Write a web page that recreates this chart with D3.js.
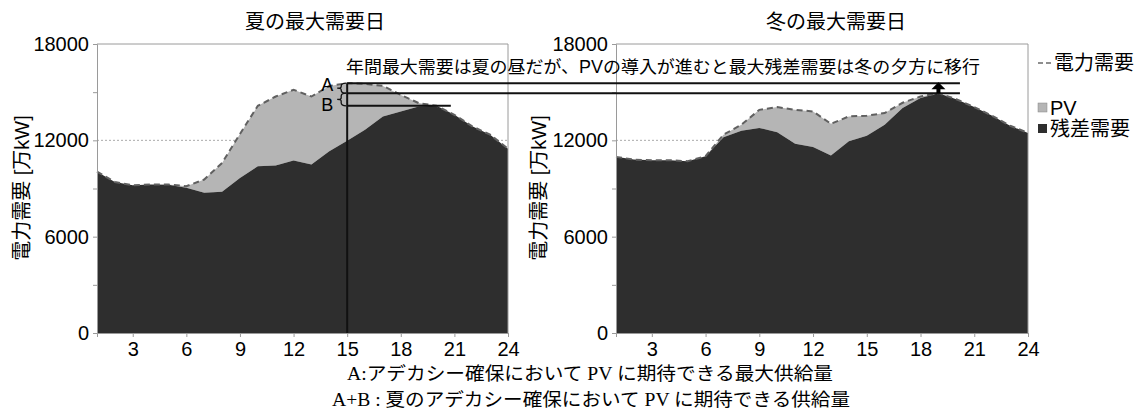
<!DOCTYPE html>
<html><head><meta charset="utf-8">
<script src="https://cdn.jsdelivr.net/npm/d3@7"></script>
<style>
body{margin:0;background:#fff}
svg text{font-family:"Liberation Sans","Noto Sans CJK JP",sans-serif;fill:#000}
</style>
</head><body><svg id="c" width="1141" height="414"></svg>
<script>
// ---------------- data ----------------
const hours = d3.range(1, 25);
const summerDemand   = [10050, 9400, 9200, 9250, 9250, 9140, 9560, 10590, 12400, 14150, 14730, 15150, 14730, 15390, 15560, 15520, 15390, 14830, 14320, 14150, 13590, 12870, 12350, 11480];
const summerResidual = [10050, 9400, 9200, 9250, 9230, 9040, 8730, 8790, 9660, 10380, 10430, 10740, 10490, 11320, 11980, 12660, 13490, 13800, 14110, 14150, 13590, 12870, 12350, 11480];
const winterDemand   = [10970, 10800, 10760, 10760, 10700, 11010, 12350, 12970, 13900, 14070, 13900, 13800, 13030, 13490, 13530, 13700, 14340, 14730, 14940, 14560, 14070, 13530, 12910, 12460];
const winterResidual = [10970, 10800, 10760, 10760, 10700, 11010, 12190, 12600, 12770, 12500, 11790, 11590, 11050, 11940, 12290, 12970, 14010, 14630, 14940, 14560, 14070, 13530, 12910, 12460];
const xTicks = [3, 6, 9, 12, 15, 18, 21, 24];
const yTicks = [0, 3000, 6000, 9000, 12000, 15000, 18000];
const yLabelTicks = [0, 6000, 12000, 18000];
const panelTitles = ["夏の最大需要日", "冬の最大需要日"];
const yAxisTitle = "電力需要 [万kW]";
const legendLabels = ["電力需要", "PV", "残差需要"];
const noteText = "年間最大需要は夏の昼だが、PVの導入が進むと最大残差需要は冬の夕方に移行";
const captions = ["A:アデカシー確保において PV に期待できる最大供給量", "A+B : 夏のアデカシー確保において PV に期待できる供給量"];
const markHourSummer = 15, markHourWinter = 19;

// ---------------- layout ----------------
const svg = d3.select("#c");
const plotTop = 44, plotBottom = 333;
const panels = [
  {x0: 97, x1: 508, demand: summerDemand, resid: summerResidual, title: panelTitles[0], tcx: 315, ylab: 22},
  {x0: 616, x1: 1028, demand: winterDemand, resid: winterResidual, title: panelTitles[1], tcx: 836, ylab: 539}
];
const y = d3.scaleLinear().domain([0, 18000]).range([plotBottom, plotTop]);
const C_DARK = "#2e2e2e", C_PV = "#b5b5b5", C_AX = "#9a9a9a";

panels.forEach(p => {
  p.x = d3.scaleLinear().domain([1, 24]).range([p.x0, p.x1]);
  const g = svg.append("g");
  g.selectAll(".grid").data([6000, 12000]).join("line")
    .attr("x1", p.x0).attr("x2", p.x1).attr("y1", d => y(d)).attr("y2", d => y(d))
    .attr("stroke", "#aaa").attr("stroke-width", 1).attr("stroke-dasharray", "2,2");
  const data = hours.map((h, i) => ({h, d: p.demand[i], r: p.resid[i]}));
  g.append("path").datum(data)
    .attr("d", d3.area().x(d => p.x(d.h)).y0(d => y(d.r)).y1(d => y(d.d)))
    .attr("fill", C_PV);
  g.append("path").datum(data)
    .attr("d", d3.area().x(d => p.x(d.h)).y0(y(0)).y1(d => y(d.r)))
    .attr("fill", C_DARK);
  g.append("path").datum(data)
    .attr("d", d3.line().x(d => p.x(d.h)).y(d => y(d.d)))
    .attr("fill", "none").attr("stroke", "#606060").attr("stroke-width", 2).attr("stroke-dasharray", "6,4");
  g.append("path").attr("d", `M${p.x0},${plotTop}H${p.x1}V${plotBottom}`).attr("fill", "none").attr("stroke", C_AX);
  const ya = g.append("g").attr("transform", `translate(${p.x0},0)`)
    .call(d3.axisLeft(y).tickValues(yTicks).tickSize(4).tickPadding(4)
      .tickFormat(d => yLabelTicks.includes(d) ? d : ""));
  const xa = g.append("g").attr("transform", `translate(0,${plotBottom})`)
    .call(d3.axisBottom(p.x).tickValues(xTicks).tickSize(4).tickPadding(5));
  [ya, xa].forEach(a => {
    a.select(".domain").attr("stroke", C_AX);
    a.selectAll(".tick line").attr("stroke", C_AX);
    a.selectAll("text").attr("font-size", 20).attr("fill", "#000")
      .style("font-family", "'Liberation Sans',sans-serif");
  });
  g.append("text").attr("x", p.tcx).attr("y", 22).attr("text-anchor", "middle")
    .attr("dominant-baseline", "central").attr("font-size", 20).text(p.title);
  g.append("text").attr("transform", `translate(${p.ylab},188) rotate(-90)`)
    .attr("text-anchor", "middle").attr("dominant-baseline", "central")
    .attr("font-size", 20).text(yAxisTitle);
});

// ---------------- annotations ----------------
const xs = panels[0].x, xw = panels[1].x;
const lineA = d3.max(summerDemand), lineB = d3.max(winterResidual), lineC = d3.max(summerResidual);
const ann = svg.append("g").attr("stroke", "#111").attr("stroke-width", 2).attr("fill", "none");
const xv = xs(markHourSummer);
ann.append("line").attr("x1", xv).attr("x2", xv).attr("y1", y(lineA)).attr("y2", y(0));
ann.append("line").attr("x1", xv).attr("x2", xw(20.2)).attr("y1", y(lineA)).attr("y2", y(lineA));
ann.append("line").attr("x1", xv).attr("x2", xw(20.2)).attr("y1", y(lineB)).attr("y2", y(lineB));
ann.append("line").attr("x1", xv).attr("x2", xs(20.8)).attr("y1", y(lineC)).attr("y2", y(lineC));
function brace(ya, yb) {
  const m = (ya + yb) / 2, xr = xv - 1, xm = xv - 6, xt = xv - 10;
  return `M${xr},${ya} Q${xm},${ya} ${xm},${ya + 3} L${xm},${m - 1.5} Q${xm},${m} ${xt},${m} Q${xm},${m} ${xm},${m + 1.5} L${xm},${yb - 3} Q${xm},${yb} ${xr},${yb}`;
}
ann.append("path").attr("d", brace(y(lineA), y(lineB))).attr("stroke-width", 1.3);
ann.append("path").attr("d", brace(y(lineB), y(lineC))).attr("stroke-width", 1.3);
svg.append("text").attr("x", xv - 20).attr("y", y(lineA) + 1.5).attr("text-anchor", "middle")
  .attr("dominant-baseline", "central").attr("font-size", 18).style("font-family", "'Liberation Sans',sans-serif").text("A");
svg.append("text").attr("x", xv - 20).attr("y", y(lineC) - 0.5).attr("text-anchor", "middle")
  .attr("dominant-baseline", "central").attr("font-size", 18).style("font-family", "'Liberation Sans',sans-serif").text("B");
const xa2 = xw(markHourWinter);
svg.append("rect").attr("x", xa2 - 2).attr("y", y(lineA) + 5).attr("width", 4).attr("height", y(lineB) - y(lineA) - 5).attr("fill", "#000");
svg.append("path").attr("d", `M${xa2 - 7},${y(lineA) + 6} L${xa2},${y(lineA) - 1} L${xa2 + 7},${y(lineA) + 6} Z`).attr("fill", "#000");
svg.append("text").attr("x", 346).attr("y", 67).attr("dominant-baseline", "central")
  .attr("font-size", 17.5).attr("textLength", 634).attr("lengthAdjust", "spacingAndGlyphs").text(noteText);

// ---------------- legend ----------------
const lg = svg.append("g");
lg.append("line").attr("x1", 1038).attr("x2", 1051).attr("y1", 63).attr("y2", 63)
  .attr("stroke", "#6a6a6a").attr("stroke-width", 1.5).attr("stroke-dasharray", "5,3");
lg.append("text").attr("x", 1054).attr("y", 63).attr("dominant-baseline", "central").attr("font-size", 20).text(legendLabels[0]);
lg.append("rect").attr("x", 1038).attr("y", 103).attr("width", 9).attr("height", 9).attr("fill", C_PV).attr("stroke", "#888").attr("stroke-width", 0.5);
lg.append("text").attr("x", 1050).attr("y", 108).attr("dominant-baseline", "central").attr("font-size", 20).text(legendLabels[1]);
lg.append("rect").attr("x", 1038).attr("y", 124).attr("width", 9).attr("height", 9).attr("fill", C_DARK);
lg.append("text").attr("x", 1050).attr("y", 129).attr("dominant-baseline", "central").attr("font-size", 20).text(legendLabels[2]);

// ---------------- captions ----------------
svg.append("text").attr("x", 347).attr("y", 374).attr("dominant-baseline", "central")
  .attr("font-size", 18.5).attr("textLength", 486).attr("lengthAdjust", "spacingAndGlyphs")
  .style("font-family", "'Liberation Serif','Noto Sans CJK JP',serif").text(captions[0]);
svg.append("text").attr("x", 332).attr("y", 400).attr("dominant-baseline", "central")
  .attr("font-size", 18.5).attr("textLength", 518).attr("lengthAdjust", "spacingAndGlyphs")
  .style("font-family", "'Liberation Serif','Noto Sans CJK JP',serif").text(captions[1]);
</script>
</body></html>
